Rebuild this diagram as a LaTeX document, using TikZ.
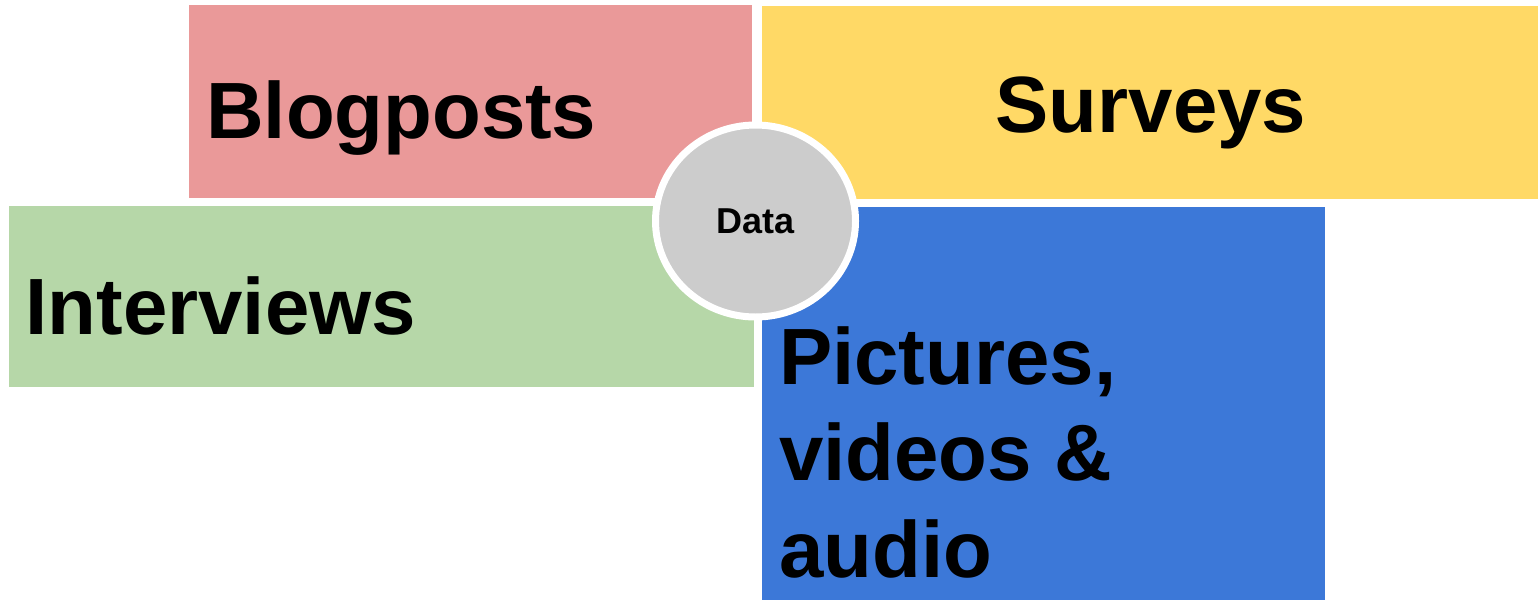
\documentclass[tikz,border=0pt]{standalone}
\usepackage{fontspec}
\setmainfont{Liberation Sans}
\usepackage{tikz}
\usetikzlibrary{shapes.geometric}

\definecolor{pinkbox}{HTML}{EA9999}
\definecolor{yellowbox}{HTML}{FFD966}
\definecolor{greenbox}{HTML}{B6D7A8}
\definecolor{bluebox}{HTML}{3C78D8}
\definecolor{hubgray}{HTML}{CCCCCC}

\begin{document}
\begin{tikzpicture}
                [
                x=1pt,y=-1pt,
                box/.style={rectangle,anchor=north west,inner sep=0pt,outer sep=0pt},
                bigtext/.style={inner sep=0pt,font=\bfseries\fontsize{79.8}{96.5}\selectfont},
                hub/.style={ellipse,draw=white,line width=7pt,fill=hubgray,
                            minimum width=200pt,minimum height=192pt,inner sep=0pt,
                            font=\bfseries\fontsize{36}{40}\selectfont}
                ]
            \useasboundingbox (0,0) rectangle (1538,600);
            \node[box,fill=pinkbox,minimum width=563pt,minimum height=193pt] (blog) at (189,5) {};
            \node[box,fill=yellowbox,minimum width=776pt,minimum height=193pt] (survey) at (762,6) {};
            \node[box,fill=greenbox,minimum width=745pt,minimum height=181pt] (inter) at (9,206) {};
            \node[box,fill=bluebox,minimum width=563pt,minimum height=393pt] (media) at (762,207) {};
            \node[bigtext,anchor=base west] (blogtext) at (206,138) {Blogposts};
            \node[bigtext,anchor=base] (surveytext) at (1151,132) {Surveys};
            \node[bigtext,anchor=base west] (intertext) at (25.5,334) {Interviews};
            \node[bigtext,anchor=base west,align=left] (mediatext) at (779,577)
                {Pictures,\\videos \&\\audio};
            \node[hub] (data) at (755.5,221) {Data};
            \end{tikzpicture}
\end{document}
